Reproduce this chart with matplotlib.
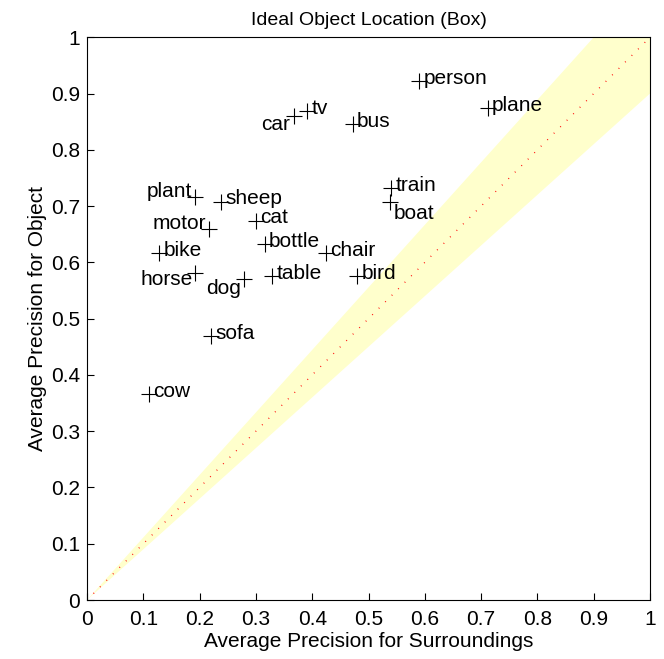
import numpy as np
import matplotlib.pyplot as plt

plt.rcParams['font.family'] = ['Liberation Sans', 'DejaVu Sans']

classes = ['person', 'plane', 'tv', 'car', 'bus', 'train', 'boat', 'plant', 'sheep',
           'motor', 'cat', 'bottle', 'chair', 'bike', 'horse', 'dog', 'table', 'bird',
           'sofa', 'cow']
ap_surround = [0.590, 0.712, 0.391, 0.368, 0.472, 0.540, 0.538, 0.192, 0.238,
               0.217, 0.300, 0.316, 0.425, 0.128, 0.192, 0.279, 0.329, 0.480,
               0.220, 0.110]
ap_object = [0.922, 0.874, 0.869, 0.860, 0.845, 0.732, 0.707, 0.716, 0.708,
             0.660, 0.674, 0.632, 0.616, 0.616, 0.581, 0.570, 0.576, 0.575,
             0.469, 0.366]
band = 0.9  # ratio band around the diagonal
# label offsets in points (dx, dy, ha)
label_pos = {
    'car': (-3, -6, 'right'), 'plant': (-2, 4, 'right'), 'motor': (-2, 4, 'right'),
    'horse': (-2, -5, 'right'), 'dog': (-2, -7, 'right'), 'boat': (3, -8, 'left'),
}

fig = plt.figure(figsize=(6.64, 6.59), dpi=100)
ax = fig.add_axes([0.131, 0.0895, 0.848, 0.854])

ax.fill([0, band, 1, 1], [0, 1, 1, band], color='#ffffcc', lw=0, zorder=0)
ax.plot([0, 1], [0, 1], color='red', lw=1.0, linestyle=(0, (0.6, 6)), zorder=1)

ax.plot(ap_surround, ap_object, '+', color='black', ms=12, mew=0.8, zorder=3)
for name, x, y in zip(classes, ap_surround, ap_object):
    dx, dy, ha = label_pos.get(name, (3, 2, 'left'))
    ax.annotate(name, (x, y), xytext=(dx, dy), textcoords='offset points',
                ha=ha, va='center', fontsize=15)

ax.set_xlim(0, 1)
ax.set_ylim(0, 1)
ticks = np.arange(0, 1.01, 0.1)
tick_labels = ['0', '0.1', '0.2', '0.3', '0.4', '0.5', '0.6', '0.7', '0.8', '0.9', '1']
ax.set_xticks(ticks)
ax.set_xticklabels(tick_labels)
ax.set_yticks(ticks)
ax.set_yticklabels(tick_labels)
ax.tick_params(direction='in', length=5, labelsize=15)
ax.tick_params(axis='x', pad=7)
ax.tick_params(axis='y', pad=5)
for s in ax.spines.values():
    s.set_linewidth(0.8)

ax.set_title('Ideal Object Location (Box)', fontsize=14, pad=9)
ax.set_xlabel('Average Precision for Surroundings', fontsize=15, labelpad=2)
ax.set_ylabel('Average Precision for Object', fontsize=15, labelpad=3)

fig.savefig('out.png', dpi=100)
